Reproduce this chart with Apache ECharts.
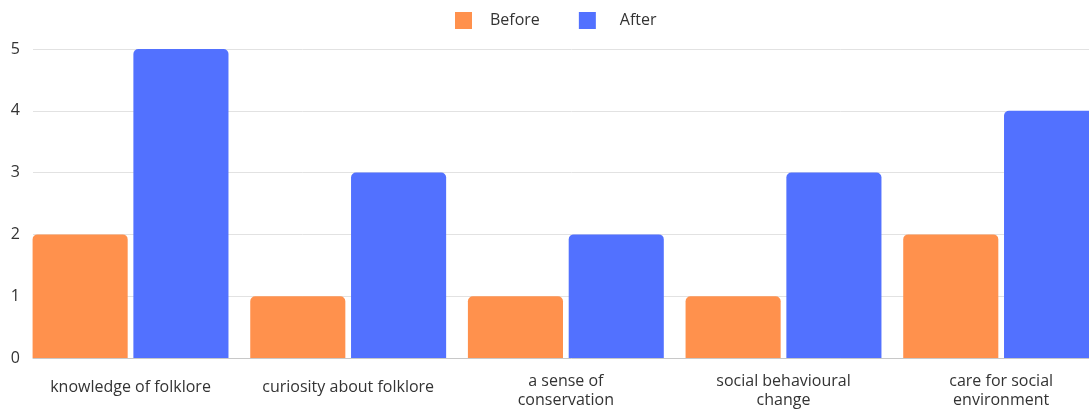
<!DOCTYPE html>
<html><head><meta charset="utf-8">
<script src="https://cdn.jsdelivr.net/npm/echarts@6/dist/echarts.min.js"></script>
<style>html,body{margin:0;padding:0;background:#fff;overflow:hidden;width:1089px;height:410px}#c{width:1110px;height:430px}</style>
</head><body><div id="c"></div>
<script>
const categories = ["knowledge of folklore", "curiosity about folklore", "a sense of\nconservation", "social behavioural\nchange", "care for social\nenvironment"];
const beforeValues = [2, 1, 1, 1, 2];
const afterValues = [5, 3, 2, 3, 4];
const yTicks = [0, 1, 2, 3, 4, 5];

const chart = echarts.init(document.getElementById('c'), null, {renderer: 'canvas'});
const font = "'Open Sans', 'Noto Sans', sans-serif";
const legendText = {fontFamily: font, fontSize: 16, color: '#333'};
const yMin = yTicks[0], yMax = yTicks[yTicks.length - 1];
chart.setOption({
  animation: false,
  textStyle: {fontFamily: font},
  legend: {
    left: 450, top: 7,
    itemWidth: 17, itemHeight: 17, itemGap: 39,
    icon: 'rect',
    textStyle: Object.assign({padding: [0, 0, 0, 13]}, legendText),
    data: [
      {name: 'Before', textStyle: Object.assign({padding: [0, 0, 0, 13]}, legendText)},
      {name: 'After', textStyle: Object.assign({padding: [0, 0, 0, 19]}, legendText)}
    ]
  },
  grid: [
    {left: 21.7, right: 0, top: 49, bottom: 72, containLabel: false, outerBoundsMode: 'none'},
    {left: 33, right: 0, top: 49, bottom: 72, containLabel: false, outerBoundsMode: 'none'}
  ],
  xAxis: [
    {
      type: 'category', gridIndex: 0,
      data: categories.map(c => c.indexOf('\n') >= 0 ? c : {value: c, textStyle: {padding: [6, 0, 0, 0]}}),
      axisTick: {show: false},
      axisLine: {show: false},
      axisLabel: {fontFamily: font, fontSize: 16, color: '#333', margin: 14, lineHeight: 19, interval: 0}
    },
    {
      type: 'value', gridIndex: 1, min: 0, max: 1,
      axisTick: {show: false}, axisLabel: {show: false}, splitLine: {show: false},
      axisLine: {show: true, lineStyle: {color: '#c8c8c8', width: 1}}
    }
  ],
  yAxis: [
    {
      type: 'value', gridIndex: 0, min: yMin, max: yMax, interval: 1,
      show: false, splitLine: {show: false}
    },
    {
      type: 'value', gridIndex: 1, min: yMin, max: yMax, interval: 1,
      axisLine: {show: false},
      axisTick: {show: false},
      splitLine: {lineStyle: {color: '#e2e2e2', width: 1}},
      axisLabel: {fontFamily: font, fontSize: 16, color: '#333', margin: 13, align: 'right'}
    }
  ],
  series: [
    {name: 'Before', type: 'bar', xAxisIndex: 0, yAxisIndex: 0, data: beforeValues, barGap: '6%', barCategoryGap: '10%',
     itemStyle: {color: '#FF914D', borderRadius: [5, 5, 0, 0]}},
    {name: 'After', type: 'bar', xAxisIndex: 0, yAxisIndex: 0, data: afterValues, barGap: '6%', barCategoryGap: '10%',
     itemStyle: {color: '#5271FF', borderRadius: [5, 5, 0, 0]}}
  ]
});
</script>
</body></html>
